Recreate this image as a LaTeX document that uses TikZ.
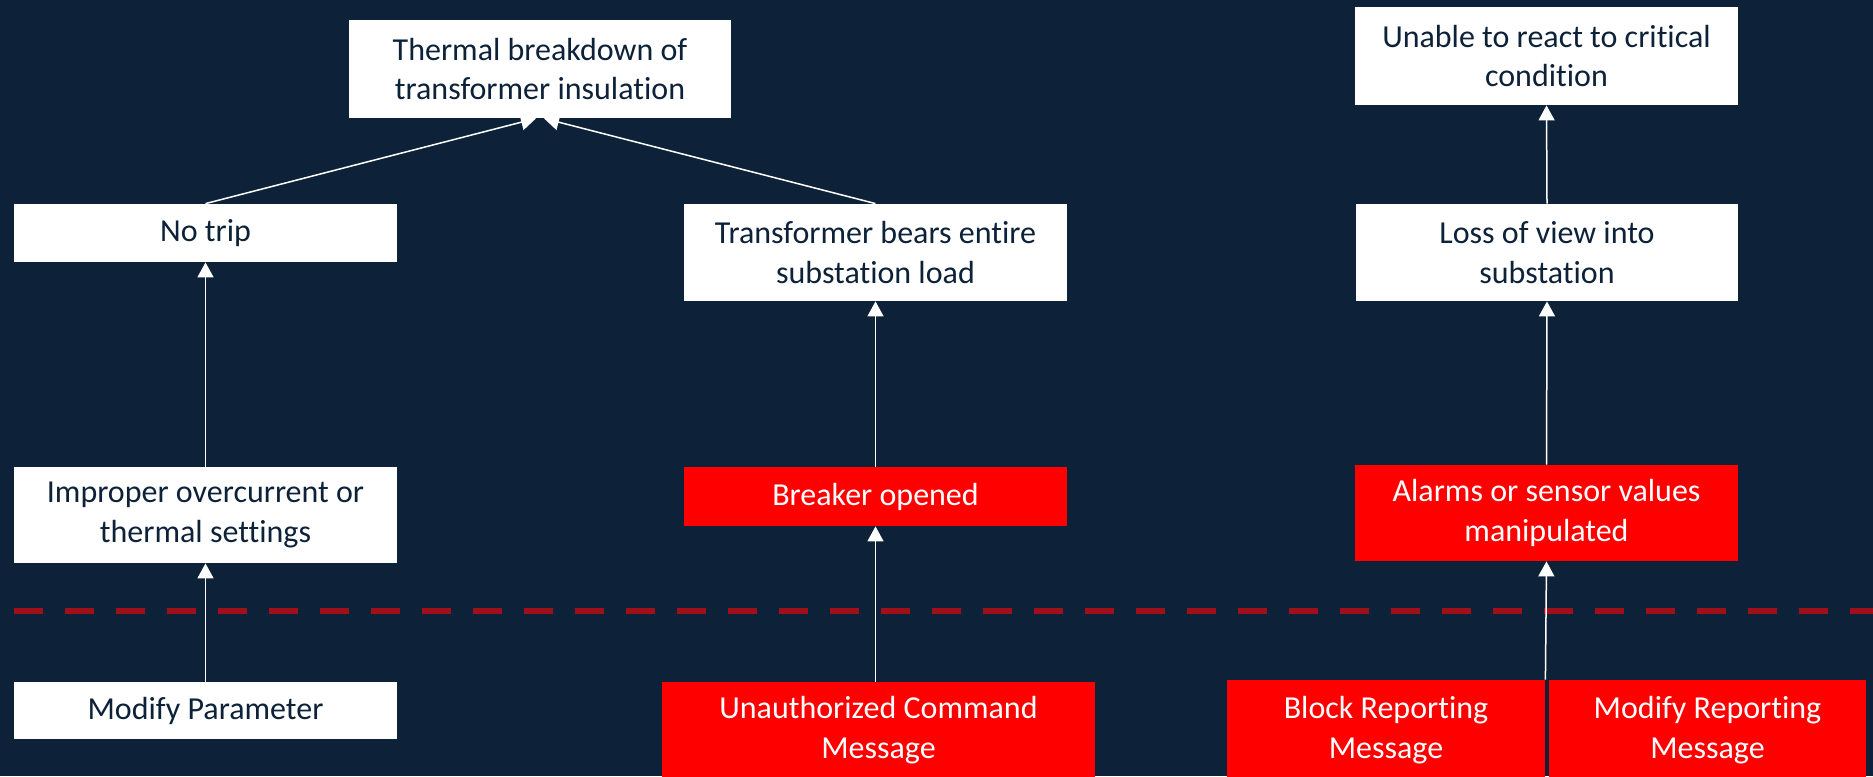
\documentclass[tikz,border=0pt]{standalone}
\usepackage{fontspec}
\setmainfont{Carlito}[RawFeature={-liga;-clig;-calt;-dlig;-rlig}]
\usetikzlibrary{arrows.meta,calc}
\definecolor{bg}{HTML}{0D2239}
\definecolor{dred}{HTML}{A0101A}
\definecolor{bred}{HTML}{FF0000}
\tikzset{
  box/.style={rectangle, inner sep=0pt, align=center, font=\fontsize{16}{19.75}\selectfont},
  wbox/.style={box, fill=white, text=bg},
  rbox/.style={box, fill=bred, text=white},
  arr/.style={draw=white, line width=0.75pt, -{Triangle[width=8pt,length=7.5pt]}},
  sep/.style={draw=dred, line width=3.35pt, dash pattern=on 14.5pt off 11pt}
}
\begin{document}
\begin{tikzpicture}[x=0.5pt,y=-0.5pt]
\fill[bg] (0,0) rectangle (1873,776);
\useasboundingbox (0,0) rectangle (1873,776);
% nodes
\node[wbox, minimum width=191pt, minimum height=49pt] (therm) at (540,69) {Thermal breakdown of\\transformer insulation};
\node[wbox, minimum width=191.5pt, minimum height=29pt] (notrip) at (205.5,233) {No trip};
\node[wbox, minimum width=191.5pt, minimum height=48.5pt] (trans) at (875.5,252.5) {Transformer bears entire\\substation load};
\node[wbox, minimum width=191.5pt, minimum height=49pt] (unable) at (1546.5,56) {Unable to react to critical\\condition};
\node[wbox, minimum width=191pt, minimum height=48.5pt] (loss) at (1547,252.5) {Loss of view into\\substation};
\node[wbox, minimum width=191.5pt, minimum height=48pt] (improper) at (205.5,515) {Improper overcurrent or\\thermal settings};
\node[rbox, minimum width=191.5pt, minimum height=29.5pt] (breaker) at (875.5,496.5) {Breaker opened};
\node[rbox, minimum width=191.5pt, minimum height=48pt] (alarms) at (1546.5,513) {Alarms or sensor values\\manipulated};
\node[wbox, minimum width=191.5pt, minimum height=28.5pt] (modparam) at (205.5,710.5) {Modify Parameter};
\node[rbox, minimum width=216.5pt, minimum height=48pt] (unauth) at (878.5,730) {Unauthorized Command\\Message};
\node[rbox, minimum width=159pt, minimum height=50pt] (block) at (1386,730) {Block Reporting\\Message};
\node[rbox, minimum width=158.5pt, minimum height=50pt] (modrep) at (1707.5,730) {Modify Reporting\\Message};
% separator
\coordinate (sepL) at (14,611);
\coordinate (sepR) at (1873,611);
\draw[sep] (sepL) -- (sepR);
% connectors
\coordinate (tl) at ($(therm.south)+(-4,0)$);
\coordinate (tr) at ($(therm.south)+(4,0)$);
\draw[arr] (notrip.north) -- (tl);
\draw[arr] (trans.north) -- (tr);
\draw[arr] (improper.north) -- (notrip.south);
\draw[arr] (modparam.north) -- (improper.south);
\draw[arr] (breaker.north) -- (trans.south);
\draw[arr] (unauth.north -| breaker.north) -- (breaker.south);
\draw[arr] (loss.north) -- (unable.south);
\draw[arr] (alarms.north) -- (loss.south);
\draw[arr] (block.north east) -- (alarms.south);
\end{tikzpicture}
\end{document}
